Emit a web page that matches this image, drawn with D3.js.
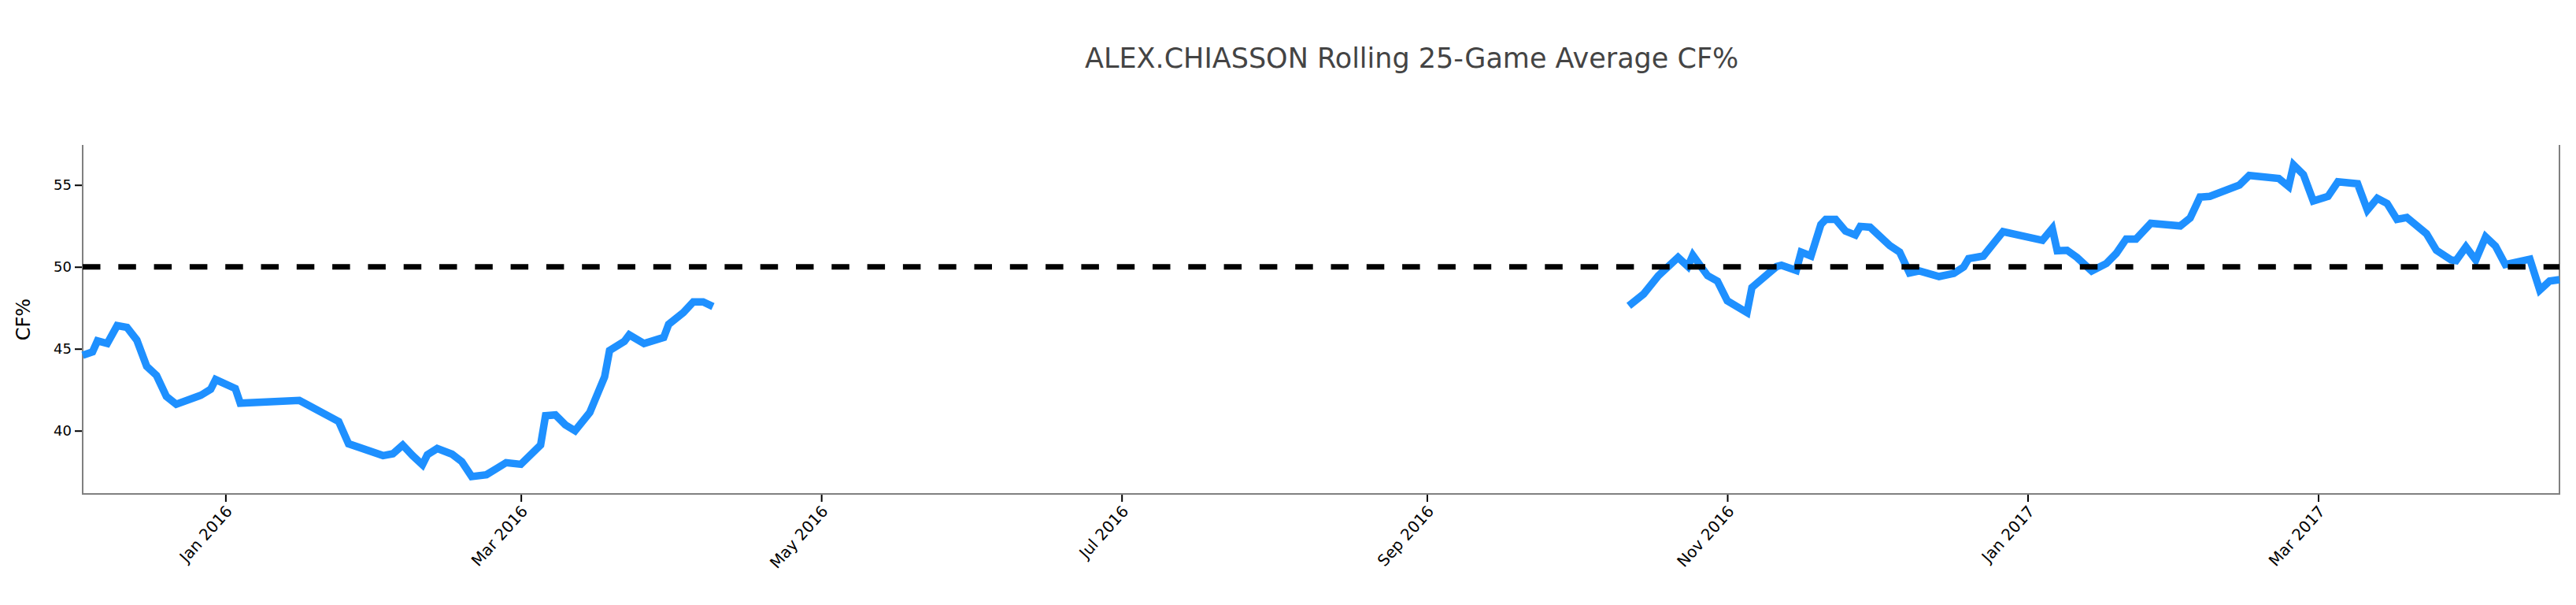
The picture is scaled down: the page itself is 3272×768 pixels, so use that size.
<!DOCTYPE html>
<html>
<head>
<meta charset="utf-8">
<script src="https://cdn.jsdelivr.net/npm/d3@7"></script>
<style>
  body { margin: 0; background: #fff; }
  svg { display: block; font-family: "DejaVu Sans", Verdana, sans-serif; }
</style>
</head>
<body>
<div id="chart"></div>
<script>
  var
    width = 3272,
    height = 768,
    margin = { top: 184, right: 21, bottom: 141, left: 105 };

  var titleText = 'ALEX.CHIASSON Rolling 25-Game Average CF%';
  var yTicks = [40, 45, 50, 55];
  var breakEven = 50;

  // 2015-16 season (rolling 25-game CF%)
  var season1Dates = [
    '2015-12-03', '2015-12-05', '2015-12-06', '2015-12-08', '2015-12-10', '2015-12-12',
    '2015-12-14', '2015-12-16', '2015-12-18', '2015-12-20', '2015-12-22', '2015-12-27',
    '2015-12-29', '2015-12-30', '2016-01-03', '2016-01-04', '2016-01-16', '2016-01-24',
    '2016-01-26', '2016-02-02', '2016-02-04', '2016-02-06', '2016-02-08', '2016-02-10',
    '2016-02-11', '2016-02-13', '2016-02-16', '2016-02-18', '2016-02-20', '2016-02-23',
    '2016-02-25', '2016-02-27', '2016-03-01', '2016-03-05', '2016-03-06', '2016-03-08',
    '2016-03-10', '2016-03-12', '2016-03-15', '2016-03-18', '2016-03-19', '2016-03-22',
    '2016-03-23', '2016-03-26', '2016-03-30', '2016-03-31', '2016-04-03', '2016-04-05',
    '2016-04-07', '2016-04-09'
  ];
  var season1CF = [
    44.60, 44.81, 45.48, 45.32, 46.41, 46.30,
    45.53, 43.93, 43.37, 42.09, 41.61, 42.16,
    42.53, 43.12, 42.57, 41.68, 41.85, 40.56,
    39.20, 38.48, 38.59, 39.12, 38.48, 37.92,
    38.53, 38.91, 38.57, 38.11, 37.20, 37.31,
    37.68, 38.05, 37.95, 39.12, 40.91, 40.96,
    40.36, 40.00, 41.12, 43.29, 44.89, 45.45,
    45.85, 45.32, 45.69, 46.49, 47.21, 47.86,
    47.86, 47.58
  ];

  // 2016-17 season
  var season2Dates = [
    '2016-10-12', '2016-10-15', '2016-10-18', '2016-10-22', '2016-10-24', '2016-10-25',
    '2016-10-28', '2016-10-30', '2016-11-01', '2016-11-05', '2016-11-06', '2016-11-11',
    '2016-11-12', '2016-11-15', '2016-11-16', '2016-11-18', '2016-11-20', '2016-11-21',
    '2016-11-23', '2016-11-25', '2016-11-27', '2016-11-28', '2016-11-30', '2016-12-04',
    '2016-12-06', '2016-12-08', '2016-12-10', '2016-12-14', '2016-12-17', '2016-12-19',
    '2016-12-20', '2016-12-23', '2016-12-27', '2017-01-04', '2017-01-06', '2017-01-07',
    '2017-01-09', '2017-01-11', '2017-01-14', '2017-01-17', '2017-01-19', '2017-01-21',
    '2017-01-23', '2017-01-26', '2017-02-01', '2017-02-03', '2017-02-05', '2017-02-07',
    '2017-02-13', '2017-02-15', '2017-02-21', '2017-02-23', '2017-02-24', '2017-02-26',
    '2017-02-28', '2017-03-03', '2017-03-05', '2017-03-09', '2017-03-11', '2017-03-13',
    '2017-03-15', '2017-03-17', '2017-03-19', '2017-03-23', '2017-03-25', '2017-03-28',
    '2017-03-29', '2017-03-31', '2017-04-02', '2017-04-04', '2017-04-06', '2017-04-08',
    '2017-04-13', '2017-04-15', '2017-04-17', '2017-04-19'
  ];
  var season2CF = [
    47.62, 48.34, 49.46, 50.58, 50.02, 50.71,
    49.46, 49.13, 47.93, 47.21, 48.74, 50.02,
    50.10, 49.78, 50.90, 50.66, 52.58, 52.90,
    52.90, 52.18, 51.94, 52.47, 52.42, 51.30,
    50.90, 49.62, 49.75, 49.41, 49.60, 49.99,
    50.50, 50.66, 52.15, 51.62, 52.34, 50.98,
    51.01, 50.58, 49.75, 50.21, 50.82, 51.70,
    51.70, 52.66, 52.50, 52.98, 54.26, 54.30,
    54.99, 55.58, 55.39, 54.90, 56.22, 55.63,
    54.02, 54.30, 55.19, 55.07, 53.46, 54.18,
    53.87, 52.90, 53.01, 52.02, 51.01, 50.42,
    50.38, 51.22, 50.42, 51.83, 51.27, 50.14,
    50.47, 48.58, 49.13, 49.22
  ];

  var parseDate = d3.utcParse('%Y-%m-%d');

  var seasons = [
    season1Dates.map(function(d, i) { return { date: parseDate(d), cf: season1CF[i] }; }),
    season2Dates.map(function(d, i) { return { date: parseDate(d), cf: season2CF[i] }; })
  ];
  var allPoints = seasons[0].concat(seasons[1]);

  var svg = d3.select('#chart').append('svg')
    .attr('width', width)
    .attr('height', height);

  var x = d3.scaleUtc()
    .domain(d3.extent(allPoints, function(d) { return d.date; }))
    .range([margin.left, width - margin.right]);

  var y = d3.scaleLinear()
    .domain([36.14, 57.44])
    .range([height - margin.bottom, margin.top]);

  // Title
  svg.append('text')
    .attr('x', 1378)
    .attr('y', 86)
    .attr('fill', '#444')
    .style('font-size', '35px')
    .text(titleText);

  // Y axis
  var yAxis = svg.append('g')
    .attr('transform', 'translate(' + margin.left + ',0)')
    .call(d3.axisLeft(y).tickValues(yTicks).tickSize(10).tickPadding(4));
  yAxis.select('.domain').remove();
  yAxis.selectAll('.tick line').attr('stroke', '#000').attr('stroke-width', 2);
  yAxis.selectAll('.tick text')
    .attr('fill', '#000')
    .style('font-size', '18px')
    .style('font-family', '"DejaVu Sans", Verdana, sans-serif');

  svg.append('text')
    .attr('transform', 'translate(38,' + ((margin.top + height - margin.bottom) / 2) + ') rotate(-90)')
    .attr('text-anchor', 'middle')
    .attr('fill', '#000')
    .style('font-size', '24px')
    .text('CF%');

  // X axis
  var xAxis = svg.append('g')
    .attr('transform', 'translate(0,' + (height - margin.bottom) + ')')
    .call(d3.axisBottom(x)
      .ticks(d3.utcMonth.every(2))
      .tickFormat(d3.utcFormat('%b %Y'))
      .tickSize(10));
  xAxis.select('.domain').remove();
  xAxis.selectAll('.tick line').attr('stroke', '#000').attr('stroke-width', 2);
  xAxis.selectAll('.tick text')
    .attr('fill', '#000')
    .attr('text-anchor', 'end')
    .attr('transform', 'translate(4,18) rotate(-48)')
    .attr('y', 0)
    .attr('dy', '0.35em')
    .style('font-size', '20px')
    .style('font-family', '"DejaVu Sans", Verdana, sans-serif');

  // Frame (left, right, bottom)
  var frame = svg.append('g').attr('stroke', '#808080').attr('stroke-width', 2).attr('fill', 'none');
  frame.append('path')
    .attr('d', 'M' + margin.left + ',' + margin.top +
      'V' + (height - margin.bottom) +
      'H' + (width - margin.right) +
      'V' + margin.top);

  // CF% line, broken between seasons
  var line = d3.line()
    .x(function(d) { return x(d.date); })
    .y(function(d) { return y(d.cf); });

  svg.append('g')
    .selectAll('path.cf')
    .data(seasons)
    .enter().append('path')
    .attr('class', 'cf')
    .attr('fill', 'none')
    .attr('stroke', '#1E90FF')
    .attr('stroke-width', 9.5)
    .attr('d', line);

  // 50% reference line
  svg.append('line')
    .attr('x1', margin.left)
    .attr('x2', width - margin.right)
    .attr('y1', y(breakEven))
    .attr('y2', y(breakEven))
    .attr('stroke', '#000')
    .attr('stroke-width', 7)
    .attr('stroke-dasharray', '22.5,22.8');
</script>
</body>
</html>
